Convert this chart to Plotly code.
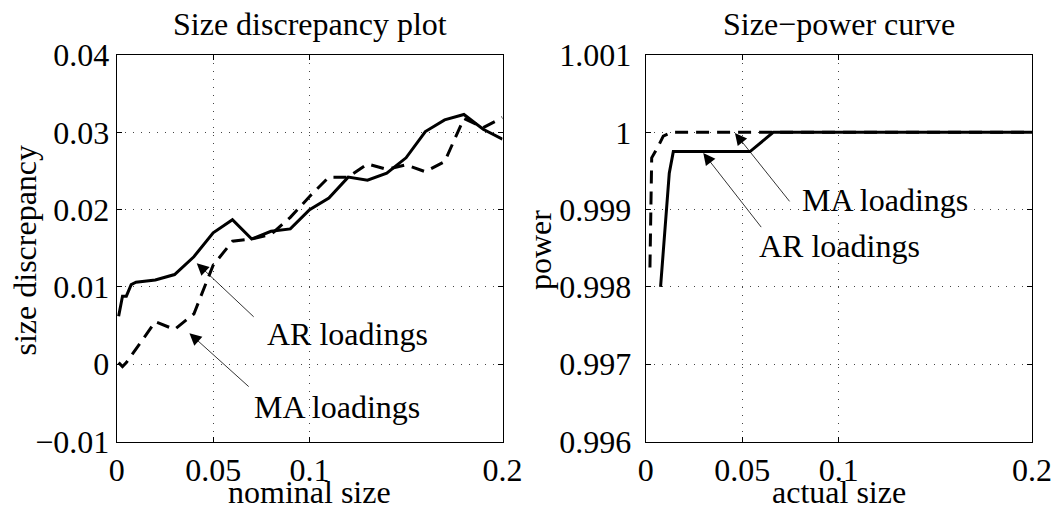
import plotly.graph_objects as go

# ---------------- data ----------------
nominal = [0.001, 0.003, 0.005, 0.0075, 0.01, 0.02, 0.03, 0.04, 0.05, 0.06, 0.07, 0.08,
           0.09, 0.10, 0.11, 0.12, 0.13, 0.14, 0.15, 0.16, 0.17, 0.18, 0.19, 0.20]
ar_disc = [0.0062, 0.0088, 0.0088, 0.0103, 0.0106, 0.0109, 0.0116, 0.0139, 0.0170, 0.0187,
           0.0162, 0.0172, 0.0175, 0.0200, 0.0215, 0.0242, 0.0238, 0.0247, 0.0267, 0.0301,
           0.0316, 0.0323, 0.0304, 0.0291]
ma_disc = [0.0002, -0.0003, 0.0002, 0.0011, 0.0020, 0.0055, 0.0045, 0.0065, 0.0128, 0.0159,
           0.0162, 0.0168, 0.0190, 0.0217, 0.0242, 0.0242, 0.0259, 0.0252, 0.0258, 0.0249,
           0.0262, 0.0318, 0.0306, 0.0319]

ar_size = [0.0077, 0.0122, 0.0143, 0.054, 0.066, 0.2]
ar_power = [0.998, 0.99947, 0.99975, 0.99975, 1.0, 1.0]
ma_size = [0.0022, 0.0031, 0.0065, 0.0091, 0.0134, 0.2]
ma_power = [0.99825, 0.99967, 0.99982, 0.99995, 1.0, 1.0]

x_ticks = [0, 0.05, 0.1, 0.2]
x_ticktext = ["0", "0.05", "0.1", "0.2"]
y1_ticks = [-0.01, 0, 0.01, 0.02, 0.03, 0.04]
y1_ticktext = ["\u22120.01", "0", "0.01", "0.02", "0.03", "0.04"]
y2_ticks = [0.996, 0.997, 0.998, 0.999, 1.0, 1.001]
y2_ticktext = ["0.996", "0.997", "0.998", "0.999", "1", "1.001"]

# ---------------- style ----------------
W, H = 1053, 512
FONT = "Liberation Serif, Times New Roman, serif"
FS = 32
LW = 3
DASH = "13px,8px"

fig = go.Figure()
fig.add_trace(go.Scatter(x=nominal, y=ar_disc, mode="lines", xaxis="x", yaxis="y",
                         line=dict(color="black", width=LW), showlegend=False))
fig.add_trace(go.Scatter(x=nominal, y=ma_disc, mode="lines", xaxis="x", yaxis="y",
                         line=dict(color="black", width=LW, dash=DASH), showlegend=False))
fig.add_trace(go.Scatter(x=ma_size, y=ma_power, mode="lines", xaxis="x2", yaxis="y2",
                         line=dict(color="black", width=LW, dash=DASH), showlegend=False))
fig.add_trace(go.Scatter(x=ar_size, y=ar_power, mode="lines", xaxis="x2", yaxis="y2",
                         line=dict(color="black", width=LW), showlegend=False))

ydom = [(H - 441.5) / H, (H - 55) / H]
common = dict(showline=True, linecolor="black", linewidth=1, mirror="ticks",
              ticks="inside", ticklen=5, tickcolor="black", tickwidth=1,
              showgrid=True, gridcolor="#444", gridwidth=1, griddash="1px,7px",
              zeroline=False, tickfont=dict(family=FONT, size=FS, color="black"),
              fixedrange=True, automargin=False)

fig.update_layout(
    width=W, height=H, margin=dict(l=0, r=0, t=0, b=0, pad=0, autoexpand=False),
    paper_bgcolor="white", plot_bgcolor="white", showlegend=False,
    xaxis=dict(domain=[116.7 / W, 502.5 / W], range=[0, 0.2], tickvals=x_ticks,
               ticktext=x_ticktext, anchor="y", ticklabelstandoff=0, **common),
    yaxis=dict(domain=ydom, range=[-0.01, 0.04], tickvals=y1_ticks, ticktext=y1_ticktext,
               anchor="x", ticklabelstandoff=0, **common),
    xaxis2=dict(domain=[645.7 / W, 1032 / W], range=[0, 0.2], tickvals=x_ticks,
                ticktext=x_ticktext, anchor="y2", ticklabelstandoff=0, **common),
    yaxis2=dict(domain=ydom, range=[0.996, 1.001], tickvals=y2_ticks, ticktext=y2_ticktext,
                anchor="x2", ticklabelstandoff=7, **common),
)

ann = []
tfont = dict(family=FONT, size=FS, color="black")


def paper_y(py):
    return (H - py) / H


# titles and axis labels
for cx, txt in [(309.6, "Size discrepancy plot"), (838.9, "Size\u2212power curve")]:
    ann.append(dict(x=cx / W, y=paper_y(24), xref="paper", yref="paper", text=txt,
                    showarrow=False, font=tfont, xanchor="center", yanchor="middle"))
for cx, txt in [(309.6, "nominal size"), (838.9, "actual size")]:
    ann.append(dict(x=cx / W, y=0, xref="paper", yref="paper", text=txt,
                    showarrow=False, font=tfont, xanchor="center", yanchor="bottom"))
for cx, txt in [(24.5, "size discrepancy"), (540, "power")]:
    ann.append(dict(x=cx / W, y=paper_y(250), xref="paper", yref="paper", text=txt,
                    textangle=-90, showarrow=False, font=tfont,
                    xanchor="center", yanchor="middle"))

# in-plot labels
labels = [
    ("x", "y", 0.1196, 0.00392, "AR loadings"),
    ("x", "y", 0.1142, -0.00552, "MA loadings"),
    ("x2", "y2", 0.1239, 0.999118, "MA loadings"),
    ("x2", "y2", 0.1002, 0.998523, "AR loadings"),
]
for xr, yr, x, y, t in labels:
    ann.append(dict(x=x, y=y, xref=xr, yref=yr, text=t, showarrow=False, font=tfont,
                    xanchor="center", yanchor="middle"))

# arrows: head (x, y) <- tail (ax, ay)
arrows = [
    ("x", "y", 0.0415, 0.01307, 0.0718, 0.00595),
    ("x", "y", 0.0377, 0.00401, 0.0692, -0.00307),
    ("x2", "y2", 0.0462, 0.999992, 0.0751, 0.999087),
    ("x2", "y2", 0.0298, 0.999733, 0.0604, 0.998754),
]
for xr, yr, x, y, axv, ayv in arrows:
    ann.append(dict(x=x, y=y, xref=xr, yref=yr, ax=axv, ay=ayv, axref=xr, ayref=yr,
                    text="", showarrow=True, arrowhead=2, arrowsize=3, arrowwidth=0.8,
                    arrowcolor="black", standoff=0, startstandoff=0))

fig.update_layout(annotations=ann)
fig.write_html("out.html")
